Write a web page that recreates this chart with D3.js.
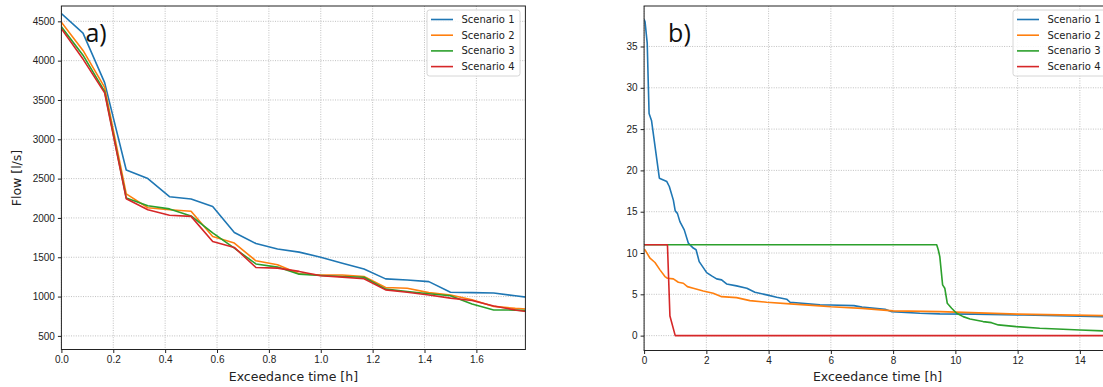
<!DOCTYPE html>
<html>
<head>
<meta charset="utf-8">
<script src="https://cdn.jsdelivr.net/npm/d3@7"></script>
<style>
  body { margin: 0; background: #fff; }
  svg { display: block; font-family: 'DejaVu Sans', sans-serif; }
  .grid line { stroke: #b0b0b0; stroke-width: 0.8; stroke-dasharray: 1,1.4; }
  .tick text { fill: #222; font-size: 10px; }
  .tick line { stroke: #222; }
</style>
</head>
<body>
<svg id="chart" width="1103" height="387"></svg>
<script>
let seriesNames = ['Scenario 1', 'Scenario 2', 'Scenario 3', 'Scenario 4']
let colors = ['#1f77b4', '#ff7f0e', '#2ca02c', '#d62728']

// panel a: flow every 5 minutes
let timeA = [0, 0.0833, 0.1667, 0.25, 0.3333, 0.4167, 0.5, 0.5833, 0.6667, 0.75, 0.8333,
  0.9167, 1.0, 1.0833, 1.1667, 1.25, 1.3333, 1.4167, 1.5, 1.5833, 1.6667, 1.75, 1.8333]
let flow1 = [4600, 4350, 3720, 2610, 2500, 2270, 2240, 2145, 1815, 1675, 1605,
  1565, 1500, 1425, 1350, 1225, 1210, 1190, 1055, 1050, 1045, 1010, 975]
let flow2 = [4490, 4130, 3660, 2305, 2130, 2105, 2085, 1765, 1680, 1455, 1405,
  1290, 1275, 1275, 1255, 1115, 1105, 1050, 1020, 960, 875, 850, 835]
let flow3 = [4430, 4070, 3610, 2255, 2155, 2115, 2025, 1810, 1615, 1415, 1375,
  1285, 1268, 1255, 1245, 1095, 1065, 1035, 1010, 905, 830, 828, 815]
let flow4 = [4405, 4020, 3590, 2245, 2105, 2035, 2020, 1700, 1625, 1370, 1362,
  1320, 1264, 1247, 1226, 1085, 1055, 1020, 980, 950, 880, 830, 790]

// panel b
let timeB1 = [0, 0.03, 0.1, 0.16, 0.24, 0.49, 0.73, 0.81, 0.94, 1.0, 1.07, 1.15, 1.29, 1.42,
  1.58, 1.67, 1.77, 2.01, 2.17, 2.33, 2.49, 2.65, 2.97, 3.3, 3.56, 3.94, 4.26, 4.58, 4.69,
  5.65, 5.97, 6.74, 7.0, 7.74, 7.96, 8.86, 9.5, 10.6, 12.2, 14.73, 16]
let val1 = [38.3, 38.0, 35.4, 26.9, 26.0, 19.06, 18.65, 18.05, 16.4, 15.1, 14.8, 13.8, 12.8, 11.2,
  10.6, 10.4, 8.96, 7.63, 7.23, 6.87, 6.75, 6.26, 6.02, 5.74, 5.25, 4.93, 4.65, 4.41, 4.04,
  3.72, 3.7, 3.63, 3.45, 3.2, 2.9, 2.71, 2.63, 2.6, 2.5, 2.3, 2.2]
let timeB2 = [0, 0.03, 0.19, 0.35, 0.51, 0.67, 0.75, 0.94, 1.1, 1.26, 1.39, 1.58, 1.9, 2.22,
  2.49, 2.97, 3.4, 3.94, 4.69, 5.65, 6.0, 7.0, 8.0, 9.5, 10.0, 12.0, 14.74, 16]
let val2 = [10.4, 10.38, 9.37, 8.85, 7.96, 7.15, 6.95, 6.87, 6.46, 6.34, 5.93, 5.74, 5.41, 5.13,
  4.72, 4.6, 4.24, 4.04, 3.84, 3.6, 3.5, 3.3, 3.0, 2.9, 2.85, 2.6, 2.42, 2.35]
let timeB3 = [0, 9.4, 9.45, 9.5, 9.59, 9.66, 9.74, 9.88, 10.04, 10.25, 10.47, 10.89, 11.16,
  11.38, 11.96, 12.71, 13.46, 14.0, 14.74, 16]
let val3 = [11.0, 11.0, 10.4, 9.57, 6.14, 5.74, 3.92, 3.32, 2.71, 2.3, 2.02, 1.7, 1.57,
  1.3, 1.09, 0.89, 0.77, 0.69, 0.57, 0.5]
let timeB4 = [0, 0.75, 0.83, 1.0, 16]
let val4 = [11.0, 11.0, 2.38, 0, 0]

let ticksA = { x: d3.range(0, 1.61, 0.2), y: d3.range(500, 4501, 500) }
let ticksB = { x: d3.range(0, 15, 2), y: d3.range(0, 36, 5) }

let svg = d3.select('#chart')

function zip(xs, ys) {
  return xs.map((x, i) => ({ x: x, y: ys[i] }))
}

function panel(opts) {
  let x = d3.scaleLinear().domain(opts.xDomain).range([opts.left, opts.right])
  let y = d3.scaleLinear().domain(opts.yDomain).range([opts.bottom, opts.top])
  let g = svg.append('g')

  g.append('clipPath')
    .attr('id', opts.id)
    .append('rect')
    .attr('x', opts.left)
    .attr('y', opts.top)
    .attr('width', opts.right - opts.left)
    .attr('height', opts.bottom - opts.top)

  // grid
  let grid = g.append('g').attr('class', 'grid')
  grid.selectAll('.gx')
    .data(opts.xTicks)
    .enter()
    .append('line')
    .attr('x1', d => x(d)).attr('x2', d => x(d))
    .attr('y1', opts.top).attr('y2', opts.bottom)
  grid.selectAll('.gy')
    .data(opts.yTicks)
    .enter()
    .append('line')
    .attr('y1', d => y(d)).attr('y2', d => y(d))
    .attr('x1', opts.left).attr('x2', opts.right)

  let line = d3.line().x(d => x(d.x)).y(d => y(d.y))
  g.append('g')
    .attr('clip-path', `url(#${opts.id})`)
    .selectAll('path')
    .data(opts.series)
    .enter()
    .append('path')
    .attr('d', d => line(d))
    .attr('fill', 'none')
    .attr('stroke', (d, i) => colors[i])
    .attr('stroke-width', 1.6)
    .attr('stroke-linejoin', 'round')

  g.append('g')
    .attr('transform', `translate(0,${opts.bottom})`)
    .call(d3.axisBottom(x).tickValues(opts.xTicks).tickFormat(opts.xFormat).tickSize(3.5).tickPadding(3))
    .call(a => a.select('.domain').remove())
  g.append('g')
    .attr('transform', `translate(${opts.left},0)`)
    .call(d3.axisLeft(y).tickValues(opts.yTicks).tickFormat(d3.format('d')).tickSize(3.5).tickPadding(3))
    .call(a => a.select('.domain').remove())

  g.append('rect')
    .attr('x', opts.left)
    .attr('y', opts.top)
    .attr('width', opts.right - opts.left)
    .attr('height', opts.bottom - opts.top)
    .attr('fill', 'none')
    .attr('stroke', '#222')
    .attr('stroke-width', 1)

  g.append('text')
    .attr('x', (opts.left + Math.min(opts.right, 1103)) / 2 + opts.xLabelShift)
    .attr('y', 381)
    .attr('text-anchor', 'middle')
    .attr('font-size', 12.5)
    .attr('fill', '#222')
    .text('Exceedance time [h]')

  g.append('text')
    .attr('x', opts.left + 24)
    .attr('y', 42)
    .attr('font-family', 'Open Sans, sans-serif')
    .attr('font-size', 25)
    .attr('fill', '#111')
    .text(opts.tag)

  // legend
  let lg = g.append('g').attr('transform', `translate(${opts.legendX},10)`)
  lg.append('rect')
    .attr('width', 93)
    .attr('height', 66)
    .attr('rx', 2.5)
    .attr('fill', 'rgba(255,255,255,0.85)')
    .attr('stroke', '#d6d6d6')
  lg.selectAll('.item')
    .data(seriesNames)
    .enter()
    .append('g')
    .attr('transform', (d, i) => `translate(0,${9.5 + i * 15.7})`)
    .each(function(d, i) {
      let item = d3.select(this)
      item.append('line')
        .attr('x1', 4).attr('x2', 26)
        .attr('stroke', colors[i])
        .attr('stroke-width', 1.6)
      item.append('text')
        .attr('x', 34.5)
        .attr('dy', '0.35em')
        .attr('font-size', 10)
        .attr('fill', '#222')
        .text(d)
    })
  return g
}

panel({
  id: 'clipA', tag: 'a)',
  left: 61.4, right: 525.4, top: 6, bottom: 349.5,
  xDomain: [0, 1.789], yDomain: [327, 4695],
  xTicks: ticksA.x, yTicks: ticksA.y, xFormat: d3.format('.1f'),
  xLabelShift: 0, legendX: 427,
  series: [zip(timeA, flow1), zip(timeA, flow2), zip(timeA, flow3), zip(timeA, flow4)]
})

panel({
  id: 'clipB', tag: 'b)',
  left: 644.1, right: 1111, top: 6, bottom: 350.5,
  xDomain: [0, 15], yDomain: [-1.8, 39.9],
  xTicks: ticksB.x, yTicks: ticksB.y, xFormat: d3.format('d'),
  xLabelShift: 4, legendX: 1013,
  series: [zip(timeB1, val1), zip(timeB2, val2), zip(timeB3, val3), zip(timeB4, val4)]
})

svg.append('text')
  .attr('transform', 'translate(21,178) rotate(-90)')
  .attr('text-anchor', 'middle')
  .attr('font-size', 12.5)
  .attr('fill', '#222')
  .text('Flow [l/s]')
</script>
</body>
</html>
